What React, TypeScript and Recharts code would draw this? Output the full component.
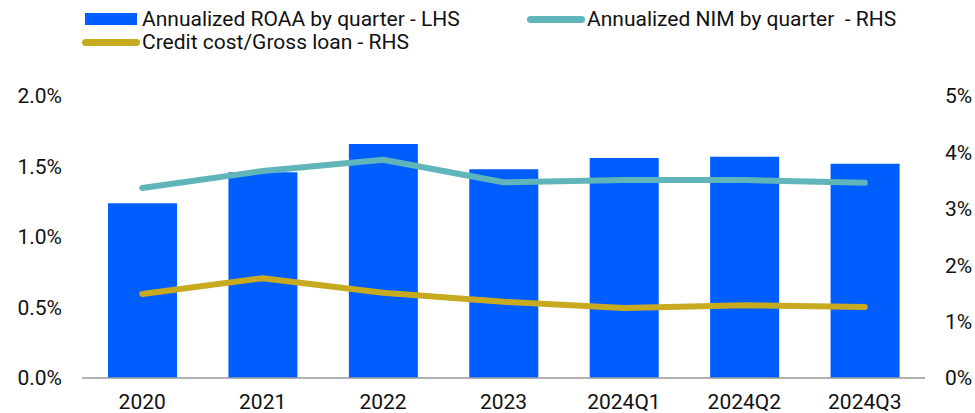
import React from 'react';
import { ComposedChart, Bar, Line, XAxis, YAxis } from 'recharts';

const periods = ['2020', '2021', '2022', '2023', '2024Q1', '2024Q2', '2024Q3'];
const roaa = [1.24, 1.46, 1.66, 1.48, 1.56, 1.57, 1.52];
const nim = [3.37, 3.67, 3.87, 3.47, 3.51, 3.51, 3.46];
const creditCost = [1.49, 1.77, 1.51, 1.35, 1.24, 1.29, 1.26];

const leftTicks = [0, 0.5, 1.0, 1.5, 2.0];
const rightTicks = [0, 1, 2, 3, 4, 5];

const BLUE = '#005EFF';
const TEAL = '#5FB5BA';
const GOLD = '#C8AA20';
const FONT = 'Roboto, "Noto Sans", sans-serif';

const data = periods.map((p, i) => ({
  period: p,
  roaa: roaa[i],
  nim: nim[i],
  credit: creditCost[i],
}));

const LegendBox = () => (
  <div style={{ position: 'absolute', left: 0, top: 0, width: 975, height: 60, fontFamily: FONT, fontSize: 21, color: '#111', lineHeight: '24px' }}>
    <div style={{ position: 'absolute', left: 85, top: 7, display: 'flex', alignItems: 'center' }}>
      <span style={{ width: 52, height: 12, background: BLUE, display: 'inline-block', marginRight: 5 }} />
      <span>Annualized ROAA by quarter - LHS</span>
    </div>
    <div style={{ position: 'absolute', left: 527, top: 7, display: 'flex', alignItems: 'center' }}>
      <span style={{ width: 58, height: 7, borderRadius: 4, background: TEAL, display: 'inline-block', marginRight: 2 }} />
      <span style={{ whiteSpace: 'pre' }}>Annualized NIM by quarter  - RHS</span>
    </div>
    <div style={{ position: 'absolute', left: 82, top: 30, display: 'flex', alignItems: 'center' }}>
      <span style={{ width: 58, height: 7, borderRadius: 4, background: GOLD, display: 'inline-block', marginRight: 2 }} />
      <span>Credit cost/Gross loan - RHS</span>
    </div>
  </div>
);

const tickStyle = { fill: '#111', fontSize: 21, fontFamily: FONT };

export default function App() {
  return (
    <div style={{ position: 'absolute', left: 0, top: 0, width: 975, height: 413, background: '#fff' }}>
      <ComposedChart width={975} height={413} data={data} margin={{ top: 96, right: 0, bottom: 0, left: 0 }}>
        <XAxis dataKey="period" height={35} tick={tickStyle} tickLine={false} tickSize={0} tickMargin={16}
          axisLine={{ stroke: '#999', strokeWidth: 1.5 }} />
        <YAxis yAxisId="left" orientation="left" width={82} domain={[0, 2]} ticks={leftTicks}
          tickFormatter={(v: number) => `${v.toFixed(1)}%`} tick={tickStyle} axisLine={false}
          tickLine={false} tickSize={0} tickMargin={20} />
        <YAxis yAxisId="right" orientation="right" width={50} domain={[0, 5]} ticks={rightTicks}
          tickFormatter={(v: number) => `${v}%`} tick={{ ...tickStyle, textAnchor: 'start' }} axisLine={false}
          tickLine={false} tickSize={0} tickMargin={20} />
        <Bar yAxisId="left" dataKey="roaa" fill={BLUE} barSize={69} isAnimationActive={false} />
        <Line yAxisId="right" dataKey="nim" type="linear" stroke={TEAL} strokeWidth={6}
          strokeLinecap="round" strokeLinejoin="round" dot={false} activeDot={false} isAnimationActive={false} />
        <Line yAxisId="right" dataKey="credit" type="linear" stroke={GOLD} strokeWidth={6}
          strokeLinecap="round" strokeLinejoin="round" dot={false} activeDot={false} isAnimationActive={false} />
      </ComposedChart>
      <LegendBox />
    </div>
  );
}
